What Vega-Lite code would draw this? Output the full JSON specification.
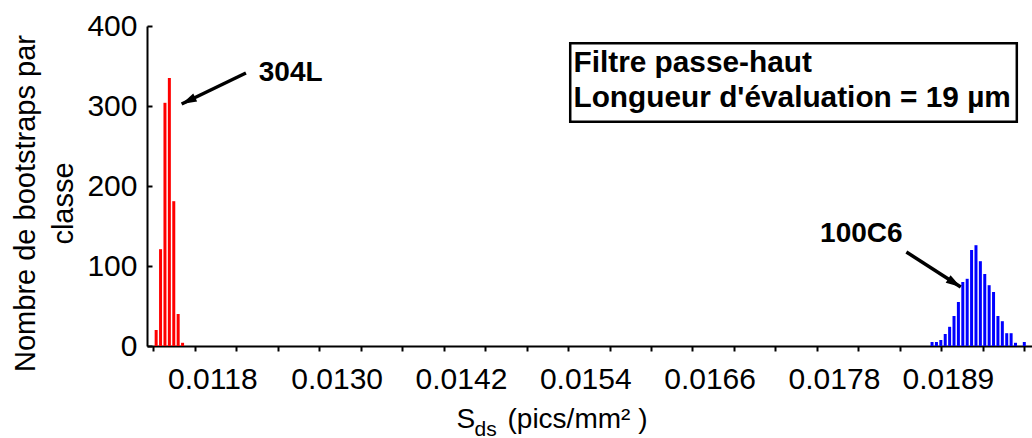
{
  "$schema": "https://vega.github.io/schema/vega-lite/v6.json",
  "width": 885,
  "height": 320,
  "autosize": {"type": "none"},
  "padding": {"left": 147, "top": 26, "right": 0, "bottom": 92},
  "background": "white",
  "config": {
    "view": {"stroke": null},
    "font": "Liberation Sans",
    "axis": {
      "labelFont": "Liberation Sans",
      "titleFont": "Liberation Sans",
      "labelColor": "black",
      "titleColor": "black",
      "domainColor": "black",
      "tickColor": "black",
      "grid": false,
      "titleFontWeight": "normal"
    }
  },
  "datasets": {
    "hist": [
      {"s": 0.011258, "n": 20, "ech": "304L"},
      {"s": 0.0113005, "n": 121, "ech": "304L"},
      {"s": 0.011343, "n": 304, "ech": "304L"},
      {"s": 0.0113855, "n": 335, "ech": "304L"},
      {"s": 0.011428, "n": 181, "ech": "304L"},
      {"s": 0.0114705, "n": 40, "ech": "304L"},
      {"s": 0.011513, "n": 4, "ech": "304L"},
      {"s": 0.018747, "n": 5, "ech": "100C6"},
      {"s": 0.0187894, "n": 5, "ech": "100C6"},
      {"s": 0.0188318, "n": 7.5, "ech": "100C6"},
      {"s": 0.0188742, "n": 15, "ech": "100C6"},
      {"s": 0.0189166, "n": 24, "ech": "100C6"},
      {"s": 0.018959, "n": 37.5, "ech": "100C6"},
      {"s": 0.0190014, "n": 55, "ech": "100C6"},
      {"s": 0.0190438, "n": 80, "ech": "100C6"},
      {"s": 0.0190862, "n": 84, "ech": "100C6"},
      {"s": 0.0191286, "n": 120, "ech": "100C6"},
      {"s": 0.019171, "n": 126, "ech": "100C6"},
      {"s": 0.0192134, "n": 106, "ech": "100C6"},
      {"s": 0.0192558, "n": 90, "ech": "100C6"},
      {"s": 0.0192982, "n": 76, "ech": "100C6"},
      {"s": 0.0193406, "n": 67.5, "ech": "100C6"},
      {"s": 0.019383, "n": 37.5, "ech": "100C6"},
      {"s": 0.0194254, "n": 31, "ech": "100C6"},
      {"s": 0.0194678, "n": 16, "ech": "100C6"},
      {"s": 0.0195102, "n": 16, "ech": "100C6"},
      {"s": 0.0195526, "n": 4, "ech": "100C6"},
      {"s": 0.0196374, "n": 5, "ech": "100C6"}
    ],
    "labels": [
      {"x": 0.0122485, "y": 331.25, "t": "304L"},
      {"x": 0.0176661, "y": 130.4, "t": "100C6"}
    ],
    "arrows": [
      {"name": "304L", "x": 0.0121245, "y": 341.25, "x2": 0.0115042, "y2": 302.5},
      {"name": "100C6", "x": 0.0184992, "y": 117.5, "x2": 0.0190241, "y2": 73.75}
    ],
    "box": [
      {"x": 0.0152546, "x2": 0.0195651, "y": 378.4, "y2": 280.4}
    ],
    "legend": [
      {"x": 0.015286, "y": 342.9, "t": "Filtre passe-haut"},
      {"x": 0.015286, "y": 299.1, "t": "Longueur d'évaluation = 19 µm"}
    ]
  },
  "layer": [
    {
      "data": {"name": "hist"},
      "mark": {"type": "bar", "orient": "vertical", "width": 3},
      "encoding": {
        "x": {
          "field": "s", "type": "quantitative",
          "scale": {"domain": [0.0112179, 0.0196635], "nice": false, "zero": false},
          "axis": {
            "orient": "bottom",
            "values": [0.0112303, 0.0116306, 0.012031, 0.0124313, 0.0128316, 0.013232, 0.0136323, 0.0140326, 0.014433, 0.0148333, 0.0152336, 0.015634, 0.0160343, 0.0164346, 0.016835, 0.0172353, 0.0176356, 0.018036, 0.0184363, 0.0188366, 0.019237, 0.0196373],
            "labels": false,
            "ticks": true,
            "tickSize": 5,
            "tickWidth": 2,
            "domainWidth": 2,
            "title": "S",
            "titleFontSize": 28,
            "titleAlign": "left",
            "titleBaseline": "alphabetic",
            "titleX": 309,
            "titleY": 81
          }
        },
        "y": {
          "field": "n", "type": "quantitative",
          "scale": {"domain": [0, 400], "nice": false},
          "axis": {
            "values": [0, 100, 200, 300, 400],
            "tickSize": -5,
            "tickWidth": 2,
            "domainWidth": 2,
            "labelFontSize": 30,
            "labelPadding": 15,
            "title": ["Nombre de bootstraps par", "classe"],
            "titleFontSize": 29,
            "titleLineHeight": 38,
            "titleAngle": 270,
            "titleAlign": "center",
            "titleBaseline": "alphabetic",
            "titleX": -113,
            "titleY": 177
          }
        },
        "color": {
          "field": "ech", "type": "nominal",
          "scale": {"domain": ["304L", "100C6"], "range": ["#ff0000", "#0000ff"]},
          "legend": null
        }
      }
    },
    {
      "mark": {"type": "rule", "strokeWidth": 2, "color": "black"},
      "encoding": {
        "y": {"datum": 400, "type": "quantitative", "scale": {"domain": [0, 400], "nice": false}, "axis": null}
      }
    },
    {
      "data": {"name": "box"},
      "mark": {"type": "rect", "fill": "white", "stroke": "black", "strokeWidth": 2.5},
      "encoding": {
        "x": {"field": "x", "type": "quantitative", "scale": {"domain": [0.0112179, 0.0196635], "nice": false, "zero": false}, "axis": null},
        "x2": {"field": "x2"},
        "y": {"field": "y", "type": "quantitative", "scale": {"domain": [0, 400], "nice": false}, "axis": null},
        "y2": {"field": "y2"}
      }
    },
    {
      "data": {"name": "legend"},
      "mark": {"type": "text", "font": "Liberation Sans", "fontWeight": "bold", "fontSize": 29.8, "align": "left", "baseline": "alphabetic", "color": "black"},
      "encoding": {
        "x": {
          "field": "x", "type": "quantitative",
          "scale": {"domain": [0.0112179, 0.0196635], "nice": false, "zero": false},
          "axis": {
            "orient": "bottom",
            "values": [0.0118, 0.013, 0.0142, 0.0154, 0.0166, 0.0178, 0.0189],
            "format": ".4f",
            "ticks": false,
            "domain": false,
            "labels": true,
            "labelFontSize": 30,
            "labelPadding": 18,
            "labelOverlap": false,
            "labelFlush": false,
            "title": "ds",
            "titleFontSize": 21,
            "titleAlign": "left",
            "titleBaseline": "alphabetic",
            "titleX": 327,
            "titleY": 89
          }
        },
        "y": {"field": "y", "type": "quantitative", "scale": {"domain": [0, 400], "nice": false}, "axis": null},
        "text": {"field": "t"}
      }
    },
    {
      "data": {"name": "arrows"},
      "mark": {"type": "rule", "strokeWidth": 3.5, "color": "black"},
      "encoding": {
        "x": {
          "field": "x", "type": "quantitative",
          "scale": {"domain": [0.0112179, 0.0196635], "nice": false, "zero": false},
          "axis": {
            "orient": "bottom",
            "ticks": false,
            "domain": false,
            "labels": false,
            "title": "(pics/mm² )",
            "titleFontSize": 28,
            "titleAlign": "left",
            "titleBaseline": "alphabetic",
            "titleX": 360,
            "titleY": 81
          }
        },
        "x2": {"field": "x2"},
        "y": {"field": "y", "type": "quantitative", "scale": {"domain": [0, 400], "nice": false}, "axis": null},
        "y2": {"field": "y2"}
      }
    },
    {
      "data": {"name": "arrows"},
      "transform": [{"filter": "datum.name === '304L'"}],
      "mark": {"type": "point", "shape": "M0,0L0.6,2L-0.6,2Z", "size": 225, "filled": true, "color": "black", "opacity": 1, "angle": 244.5},
      "encoding": {
        "x": {"field": "x2", "type": "quantitative", "scale": {"domain": [0.0112179, 0.0196635], "nice": false, "zero": false}, "axis": null},
        "y": {"field": "y2", "type": "quantitative", "scale": {"domain": [0, 400], "nice": false}, "axis": null}
      }
    },
    {
      "data": {"name": "arrows"},
      "transform": [{"filter": "datum.name === '100C6'"}],
      "mark": {"type": "point", "shape": "M0,0L0.6,2L-0.6,2Z", "size": 225, "filled": true, "color": "black", "opacity": 1, "angle": 122.5},
      "encoding": {
        "x": {"field": "x2", "type": "quantitative", "scale": {"domain": [0.0112179, 0.0196635], "nice": false, "zero": false}, "axis": null},
        "y": {"field": "y2", "type": "quantitative", "scale": {"domain": [0, 400], "nice": false}, "axis": null}
      }
    },
    {
      "data": {"name": "labels"},
      "mark": {"type": "text", "font": "Liberation Sans", "fontWeight": "bold", "fontSize": 28, "align": "left", "baseline": "alphabetic", "color": "black"},
      "encoding": {
        "x": {"field": "x", "type": "quantitative", "scale": {"domain": [0.0112179, 0.0196635], "nice": false, "zero": false}, "axis": null},
        "y": {"field": "y", "type": "quantitative", "scale": {"domain": [0, 400], "nice": false}, "axis": null},
        "text": {"field": "t"}
      }
    }
  ],
  "resolve": {"axis": {"x": "independent", "y": "independent"}}
}
